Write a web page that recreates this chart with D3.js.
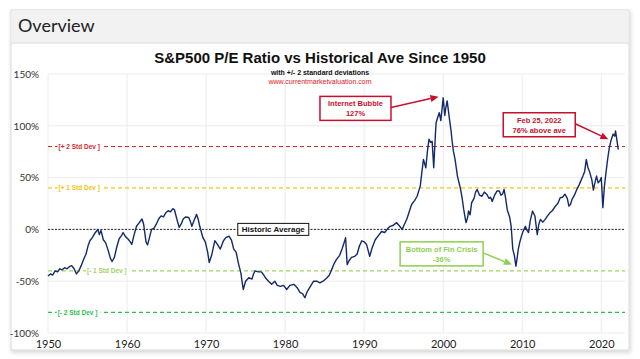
<!DOCTYPE html>
<html><head><meta charset="utf-8">
<script src="https://cdn.jsdelivr.net/npm/d3@7"></script>
<style>html,body{margin:0;padding:0;background:#fff;}svg{display:block;}</style>
</head><body>
<script>
const years = [1950.0,1950.3,1950.6,1950.9,1951.2,1951.5,1951.8,1952.1,1952.4,1952.7,1953.0,1953.3,1953.6,1953.9,1954.2,1954.5,1954.8,1955.1,1955.3,1955.6,1955.9,1956.1,1956.3,1956.5,1956.7,1957.0,1957.3,1957.6,1957.9,1958.1,1958.4,1958.7,1959.0,1959.3,1959.5,1959.8,1960.1,1960.4,1960.6,1960.9,1961.2,1961.5,1961.9,1962.1,1962.4,1962.6,1962.9,1963.1,1963.4,1963.7,1964.0,1964.3,1964.6,1964.9,1965.2,1965.5,1965.8,1966.0,1966.3,1966.6,1966.9,1967.1,1967.4,1967.8,1968.0,1968.2,1968.5,1968.8,1969.0,1969.2,1969.6,1969.9,1970.2,1970.4,1970.7,1971.1,1971.4,1971.8,1972.2,1972.5,1972.9,1973.2,1973.5,1973.8,1974.1,1974.4,1974.7,1975.0,1975.4,1975.8,1976.0,1976.2,1976.6,1977.0,1977.3,1977.5,1977.9,1978.3,1978.7,1979.0,1979.4,1979.8,1980.2,1980.6,1981.1,1981.5,1981.9,1982.2,1982.5,1982.8,1983.2,1983.6,1984.0,1984.4,1984.8,1985.3,1985.6,1985.9,1986.2,1986.5,1986.9,1987.2,1987.5,1987.65,1987.85,1988.1,1988.4,1988.8,1989.1,1989.4,1989.7,1990.0,1990.3,1990.7,1991.0,1991.4,1991.8,1992.2,1992.6,1993.0,1993.3,1993.7,1994.1,1994.5,1994.8,1995.1,1995.4,1995.7,1996.0,1996.4,1996.7,1997.1,1997.3,1997.5,1997.8,1998.0,1998.2,1998.4,1998.6,1998.8,1999.0,1999.1,1999.3,1999.5,1999.7,2000.0,2000.2,2000.3,2000.5,2000.7,2000.8,2001.0,2001.1,2001.3,2001.5,2001.8,2002.0,2002.2,2002.4,2002.6,2002.8,2002.9,2003.1,2003.2,2003.4,2003.6,2003.9,2004.1,2004.3,2004.6,2004.9,2005.2,2005.5,2005.8,2006.0,2006.2,2006.5,2006.8,2007.1,2007.3,2007.5,2007.7,2007.9,2008.1,2008.4,2008.6,2008.8,2009.0,2009.2,2009.35,2009.5,2009.7,2009.9,2010.1,2010.4,2010.6,2010.8,2011.0,2011.3,2011.6,2011.9,2012.1,2012.3,2012.6,2012.9,2013.2,2013.5,2013.8,2014.2,2014.5,2014.8,2015.1,2015.4,2015.7,2015.9,2016.1,2016.3,2016.6,2016.9,2017.2,2017.4,2017.7,2017.9,2018.1,2018.3,2018.5,2018.8,2019.0,2019.1,2019.4,2019.6,2019.8,2020.0,2020.2,2020.4,2020.6,2020.8,2021.0,2021.2,2021.5,2021.7,2021.8,2022.0,2022.15];
const peVsAve = [-45,-43,-44,-40,-41,-38,-39,-37,-38,-36,-35,-38,-43,-40,-35,-29,-24,-15,-11,-8,-4,-2,0,-5,-1,-10,-13,-20,-28,-31,-27,-17,-9,-6,-3,-7,-9,-12,-14.5,-5,3,6,10,5,-12,-15,-6,0,1,5,10,13,12,16,18,17,20,19,10,2,6,10,12,11.5,8,3,9,14.5,10,3,-8,-12,-22,-32,-25,-11,-14,-19,-11,-8,-6.5,-10,-19,-22,-33,-42,-58,-50,-46.6,-48,-43,-40,-41,-41,-44,-46.6,-50,-53,-50,-54,-55,-54,-58,-54,-53,-56,-61,-62,-66,-60,-55,-50,-50,-51.5,-50,-46.6,-44,-38.6,-33,-29,-25,-19,-12,-8,-34,-30,-27,-26,-24,-16,-11,-12,-14.5,-26,-18,-10,-6,-2,-3,1,3,4,6.5,3,0,5,10,17,24,28,32,42,55,67.6,59.5,75,87,84,85,59.5,90,103,108,112.6,105,127,110,116,124,112,106,95,87,75,67.6,51.5,45,38.6,30,19,10,6.5,12,17.7,14,25.8,30,36,38.6,33,32,36,34,30,31,27,33,37,37,33,34,38.6,30,19,12,3,-19,-25,-35.4,-28,-19,-12,-6.5,-2,3,-1,-3,8,17.7,13,-5,5,9.7,7,9.7,13,16,18,22.5,25,30.6,31,34,30,22.5,24,29,33,38.6,43,46.6,52,56,67.6,60,56,48,38,42,51.5,45,46.6,50,21,42,55,67.6,78,85,92,90,95,85,77];
const yTicks = [-100,-50,0,50,100,150];
const xTicks = [1950,1960,1970,1980,1990,2000,2010,2020];
const stdLevels = [80,40,-40,-80];
const stdLabels = ["[+ 2 Std Dev ]","[+ 1 Std Dev ]","[- 1 Std Dev ]","[- 2 Std Dev ]"];
const stdLabelYears = [1951.2,1951.2,1954.8,1951.1];
const stdColors = ["#d9262b","#f5c211","#9fd45f","#2dbf4f"];
const annoText = [["Internet Bubble","127%"],["Feb 25, 2022","76% above ave"],["Bottom of Fin Crisis","-36%"]];
const annoBox = [[1988.9,116.8],[2012.15,101],[1999.8,-23.6]];
const annoTip = [[1999.4,128],[2020.9,87],[2008.7,-34]];
const annoColors = ["#c8102e","#c8102e","#8fcf4f"];

const W=640,H=359;
const svg=d3.select("body").append("svg").attr("width",W).attr("height",H);
const defs=svg.append("defs");
const f=defs.append("filter").attr("id","sh").attr("x","-5%").attr("y","-5%").attr("width","110%").attr("height","115%");
f.append("feDropShadow").attr("dx",1).attr("dy",2).attr("stdDeviation",2).attr("flood-color","#000").attr("flood-opacity",0.18);

// card
svg.append("rect").attr("x",11).attr("y",10).attr("width",618).attr("height",340).attr("fill","#fff").attr("stroke","#d9d9d9").attr("filter","url(#sh)");
svg.append("rect").attr("x",11.5).attr("y",10.5).attr("width",617).attr("height",32).attr("fill","#f2f2f2");
svg.append("line").attr("x1",11).attr("x2",629).attr("y1",43).attr("y2",43).attr("stroke","#d9d9d9");
svg.append("text").attr("x",18).attr("y",32).text("Overview").attr("font-family","Lato, 'Open Sans', sans-serif").attr("font-size",18).attr("fill","#222");

const x=d3.scaleLinear().domain([1950,2023]).range([48,625]);
const y=d3.scaleLinear().domain([-100,150]).range([333,74]);

// grid
svg.append("g").selectAll("line").data(yTicks).join("line")
  .attr("x1",x(1950)).attr("x2",x(2023)).attr("y1",d=>y(d)).attr("y2",d=>y(d)).attr("stroke","#ececec");
svg.append("g").selectAll("line").data(xTicks).join("line")
  .attr("x1",d=>x(d)).attr("x2",d=>x(d)).attr("y1",y(150)).attr("y2",y(-100)).attr("stroke","#ececec");

// axes
const ya=svg.append("g").attr("transform",`translate(${x(1950)-6},0)`)
  .call(d3.axisLeft(y).tickValues(yTicks).tickSize(0).tickFormat(d=>d+"%"));
ya.select(".domain").remove();
ya.selectAll("text").attr("font-family","Lato, sans-serif").attr("font-size",10).attr("fill","#333");
const xa=svg.append("g").attr("transform",`translate(0,${y(-100)+4})`)
  .call(d3.axisBottom(x).tickValues(xTicks).tickSize(0).tickFormat(d3.format("d")));
xa.select(".domain").remove();
xa.selectAll("text").attr("font-family","Lato, sans-serif").attr("font-size",11).attr("fill","#222");

// title
svg.append("text").attr("x",320).attr("y",63).attr("text-anchor","middle").text("S&P500 P/E Ratio vs Historical Ave Since 1950")
  .attr("font-family","'Liberation Sans', Arial, sans-serif").attr("font-weight","bold").attr("font-size",15).attr("fill","#111");
svg.append("text").attr("x",320).attr("y",75).attr("text-anchor","middle").text("with +/- 2 standard deviations")
  .attr("font-family","'Liberation Sans', Arial, sans-serif").attr("font-weight","bold").attr("font-size",7).attr("fill","#111");
svg.append("text").attr("x",320).attr("y",84).attr("text-anchor","middle").text("www.currentmarketvaluation.com")
  .attr("font-family","'Liberation Sans', Arial, sans-serif").attr("font-size",7).attr("fill","#e0202a");

// std lines
svg.append("g").selectAll("line").data(stdLevels).join("line")
  .attr("x1",x(1950)).attr("x2",x(2023)).attr("y1",d=>y(d)).attr("y2",d=>y(d))
  .attr("stroke",(d,i)=>stdColors[i]).attr("stroke-width",1.2).attr("stroke-dasharray","4,3");
svg.append("line").attr("x1",x(1950)).attr("x2",x(2023)).attr("y1",y(0)).attr("y2",y(0))
  .attr("stroke","#222").attr("stroke-width",1).attr("stroke-dasharray","2,1.5");

const sl=svg.append("g").selectAll("g").data(stdLevels).join("g")
  .attr("transform",(d,i)=>`translate(${x(stdLabelYears[i])},${y(d)})`);
sl.append("rect").attr("x",0).attr("y",-5).attr("width",44).attr("height",10).attr("fill","#fff");
sl.append("text").attr("x",1).attr("y",2.5).text((d,i)=>stdLabels[i]).attr("fill",(d,i)=>stdColors[i])
  .attr("font-family","'Liberation Sans', Arial, sans-serif").attr("font-weight","bold").attr("font-size",6.5);

// line
svg.append("path").datum(years.map((yr,i)=>[yr,peVsAve[i]]))
  .attr("d",d3.line().x(d=>x(d[0])).y(d=>y(d[1])))
  .attr("fill","none").attr("stroke","#13296b").attr("stroke-width",1.4).attr("stroke-linejoin","round");

// historic average box
const ha=svg.append("g").attr("transform",`translate(${x(1978.5)},${y(0)})`);
ha.append("rect").attr("x",-35.5).attr("y",-6).attr("width",71).attr("height",12).attr("fill","#fff").attr("stroke","#111").attr("stroke-width",1);
ha.append("text").attr("y",3).attr("text-anchor","middle").text("Historic Average")
  .attr("font-family","'Liberation Sans', Arial, sans-serif").attr("font-weight","bold").attr("font-size",8).attr("fill","#111");

// annotations
const boxW=[71,72,83];
annoText.forEach((t,i)=>{
  const c=annoColors[i];
  const bx=x(annoBox[i][0]), by=y(annoBox[i][1]);
  const tx=x(annoTip[i][0]), ty=y(annoTip[i][1]);
  const sx=bx+boxW[i]/2, sy=by-1;
  const ang=Math.atan2(ty-sy,tx-sx);
  const L=8, hw=3.5;
  const ex=tx-L*Math.cos(ang), ey=ty-L*Math.sin(ang);
  svg.append("line").attr("x1",sx).attr("y1",sy).attr("x2",ex).attr("y2",ey).attr("stroke",c).attr("stroke-width",1.5);
  const p1=[ex+hw*Math.sin(ang),ey-hw*Math.cos(ang)], p2=[ex-hw*Math.sin(ang),ey+hw*Math.cos(ang)];
  svg.append("path").attr("d",`M${tx},${ty}L${p1[0]},${p1[1]}L${p2[0]},${p2[1]}Z`).attr("fill",c);
  const g=svg.append("g").attr("transform",`translate(${bx},${by})`);
  g.append("rect").attr("x",-boxW[i]/2).attr("y",-12).attr("width",boxW[i]).attr("height",24).attr("fill","#fff").attr("stroke",c).attr("stroke-width",1.5);
  g.selectAll("text").data(t).join("text").attr("text-anchor","middle").attr("y",(d,j)=>-2+j*10).text(d=>d)
    .attr("font-family","'Liberation Sans', Arial, sans-serif").attr("font-weight","bold").attr("font-size",7.5).attr("fill",c);
});
</script>
</body></html>
